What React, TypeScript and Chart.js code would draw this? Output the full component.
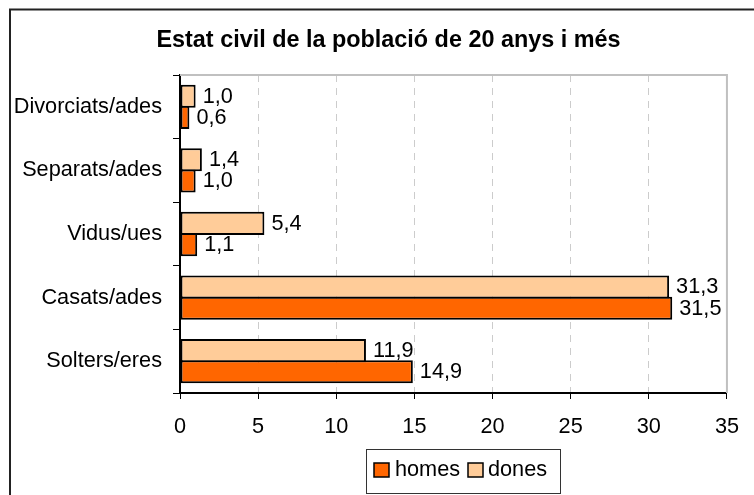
import React, { useEffect, useRef } from "react";
import { Chart, registerables } from "chart.js";

Chart.register(...registerables);

const titleText = "Estat civil de la població de 20 anys i més";
const categories = ["Divorciats/ades", "Separats/ades", "Vidus/ues", "Casats/ades", "Solters/eres"];
const homesValues = [0.6, 1.0, 1.1, 31.5, 14.9];
const donesValues = [1.0, 1.4, 5.4, 31.3, 11.9];
const seriesNames = ["homes", "dones"];
const seriesColors = ["#FF6600", "#FFCC99"];
const xMin = 0;
const xMax = 35;
const xStep = 5;

const FONT = '"Liberation Sans", Arial, sans-serif';
const LABEL_SIZE = 21.7;

const fmt = (v: number) => v.toFixed(1).replace(".", ",");

const decorPlugin = {
  id: "decor",
  beforeDraw(chart: any) {
    const { ctx, width, height } = chart;
    ctx.save();
    ctx.fillStyle = "#ffffff";
    ctx.fillRect(0, 0, width, height);
    // outer frame (top & left visible)
    ctx.strokeStyle = "#222222";
    ctx.lineWidth = 2;
    ctx.beginPath();
    ctx.moveTo(10, height);
    ctx.lineTo(10, 9.5);
    ctx.lineTo(width, 9.5);
    ctx.stroke();
    // title
    ctx.fillStyle = "#000000";
    ctx.font = `bold 23.4px ${FONT}`;
    ctx.textAlign = "center";
    ctx.textBaseline = "alphabetic";
    ctx.fillText(titleText, 388.5, 47);
    ctx.restore();
  },
  afterDraw(chart: any) {
    const { ctx, chartArea } = chart;
    ctx.save();
    // plot area border top/right
    ctx.strokeStyle = "#c0c0c0";
    ctx.lineWidth = 2;
    ctx.beginPath();
    ctx.moveTo(chartArea.left, chartArea.top);
    ctx.lineTo(chartArea.right, chartArea.top);
    ctx.lineTo(chartArea.right, chartArea.bottom);
    ctx.stroke();

    // data labels
    ctx.fillStyle = "#000000";
    ctx.font = `${LABEL_SIZE}px ${FONT}`;
    ctx.textAlign = "left";
    ctx.textBaseline = "middle";
    chart.data.datasets.forEach((ds: any, di: number) => {
      const meta = chart.getDatasetMeta(di);
      meta.data.forEach((bar: any, i: number) => {
        ctx.fillText(fmt(ds.data[i]), bar.x + 7, bar.y + 0.5);
      });
    });

    // legend
    const lx = 366, ly = 449, lw = 194, lh = 44;
    ctx.strokeStyle = "#333333";
    ctx.lineWidth = 1;
    ctx.strokeRect(lx + 0.5, ly + 0.5, lw, lh);
    const items = [
      { name: seriesNames[0], color: seriesColors[0], sx: 374, tx: 395 },
      { name: seriesNames[1], color: seriesColors[1], sx: 468, tx: 488 },
    ];
    items.forEach((it) => {
      ctx.fillStyle = it.color;
      ctx.fillRect(it.sx, 463, 15, 14);
      ctx.strokeStyle = "#000000";
      ctx.lineWidth = 1.5;
      ctx.strokeRect(it.sx, 463, 15, 14);
      ctx.fillStyle = "#000000";
      ctx.font = `${LABEL_SIZE}px ${FONT}`;
      ctx.textAlign = "left";
      ctx.textBaseline = "alphabetic";
      ctx.fillText(it.name, it.tx, 476);
    });
    ctx.restore();
  },
};

export default function App() {
  const canvasRef = useRef<HTMLCanvasElement | null>(null);

  useEffect(() => {
    if (!canvasRef.current) return;
    const chart = new Chart(canvasRef.current, {
      type: "bar",
      data: {
        labels: categories,
        datasets: [
          {
            label: seriesNames[1],
            data: donesValues,
            backgroundColor: seriesColors[1],
            borderColor: "#000000",
            borderWidth: 2,
            borderSkipped: false,
            categoryPercentage: 0.667,
            barPercentage: 1.09,
          },
          {
            label: seriesNames[0],
            data: homesValues,
            backgroundColor: seriesColors[0],
            borderColor: "#000000",
            borderWidth: 2,
            borderSkipped: false,
            categoryPercentage: 0.667,
            barPercentage: 1.09,
          },
        ],
      },
      options: {
        indexAxis: "y",
        responsive: false,
        animation: false,
        layout: { padding: { left: 10, right: 24, top: 75, bottom: 52 } },
        plugins: {
          legend: { display: false },
          title: { display: false },
          tooltip: { enabled: false },
        },
        scales: {
          x: {
            min: xMin,
            max: xMax,
            ticks: {
              stepSize: xStep,
              color: "#000000",
              font: { family: FONT, size: LABEL_SIZE },
              padding: 15,
              maxRotation: 0,
            },
            grid: {
              color: (c: any) =>
                c.tick && (c.tick.value === xMin || c.tick.value === xMax) ? "rgba(0,0,0,0)" : "#cccccc",
              tickColor: "#000000",
              tickLength: 6,
              lineWidth: 1,
            },
            border: { color: "#000000", width: 2, dash: [7, 6] },
            afterFit: (scale: any) => {
              scale.height = 50;
            },
          },
          y: {
            ticks: {
              color: "#000000",
              font: { family: FONT, size: LABEL_SIZE },
              padding: 11,
            },
            grid: {
              drawOnChartArea: false,
              tickColor: "#000000",
              tickLength: 7,
              offset: true,
            },
            border: { color: "#000000", width: 2 },
            afterFit: (scale: any) => {
              scale.width = 170;
            },
          },
        },
      },
      plugins: [decorPlugin],
    } as any);
    return () => chart.destroy();
  }, []);

  return (
    <div style={{ position: "fixed", left: 0, top: 0, width: 754, height: 495, overflow: "hidden", background: "#fff" }}>
      <canvas ref={canvasRef} width={754} height={495} style={{ display: "block" }} />
    </div>
  );
}
